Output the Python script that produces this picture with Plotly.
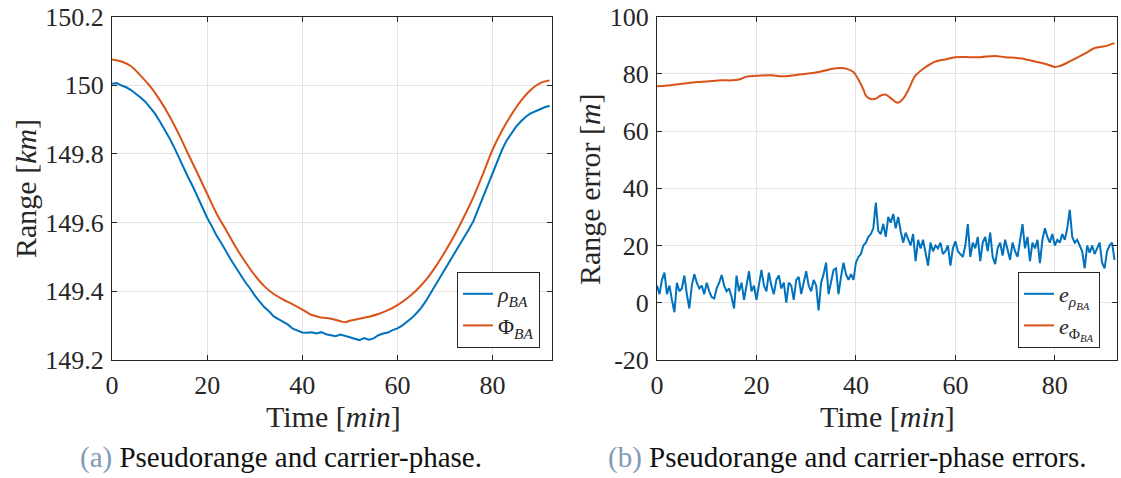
import plotly.graph_objects as go

# ---------------- data: left panel (range, km) ----------------
t_rho = list(range(0, 93))
rho_BA = [150.004, 150.006, 149.999, 149.994, 149.986, 149.976, 149.964, 149.952, 149.935, 149.918,
          149.896, 149.874, 149.848, 149.821, 149.790, 149.763, 149.732, 149.705, 149.674, 149.642,
          149.614, 149.589, 149.562, 149.540, 149.514, 149.492, 149.470, 149.448, 149.427, 149.409,
          149.388, 149.371, 149.354, 149.342, 149.327, 149.319, 149.310, 149.303, 149.291, 149.285,
          149.280, 149.279, 149.281, 149.277, 149.281, 149.275, 149.273, 149.269, 149.274, 149.269,
          149.266, 149.262, 149.258, 149.264, 149.259, 149.263, 149.272, 149.277, 149.280, 149.287,
          149.292, 149.300, 149.310, 149.322, 149.336, 149.352, 149.372, 149.395, 149.418, 149.440,
          149.462, 149.485, 149.508, 149.532, 149.556, 149.580, 149.605, 149.640, 149.675, 149.710,
          149.745, 149.780, 149.812, 149.840, 149.862, 149.880, 149.895, 149.908, 149.918, 149.925,
          149.930, 149.936, 149.940]

t_phi = [0, 2, 4, 6, 8, 10, 12, 14, 16, 18, 20, 22, 24, 26, 28, 30, 32, 34, 36, 38, 40, 42, 44, 46,
         48, 49, 50, 52, 54, 56, 58, 60, 62, 64, 66, 68, 70, 72, 74, 76, 78, 80, 82, 84, 86, 88, 90, 92]
phi_BA = [150.075, 150.069, 150.055, 150.028, 149.997, 149.958, 149.912, 149.859, 149.800, 149.743,
          149.684, 149.626, 149.578, 149.529, 149.486, 149.447, 149.415, 149.392, 149.376, 149.362,
          149.347, 149.331, 149.324, 149.320, 149.313, 149.310, 149.314, 149.320, 149.326, 149.334,
          149.345, 149.360, 149.379, 149.403, 149.433, 149.471, 149.515, 149.563, 149.617, 149.675,
          149.742, 149.812, 149.868, 149.915, 149.955, 149.986, 150.006, 150.014]

# ---------------- data: right panel (range error, m) ----------------
e_rho_BA = [6, 3, 8, 10.5, 3, 6, 1, -3.3, 7, 4,
            5, 9.5, 3, -2, 6, 10, 7, 5, 6, 3,
            7, 4, 2, 1.5, 5, 7, 9.7, 6, 4, 5,
            2, -2, 9.5, 4, 7, 1, 6, 11, 4, 6,
            1, 7, 11.5, 6, 4, 10.5, 6, 3, 8, 9.5,
            5, 7, 0, 7, 6, 1, 8, 9, 3, 7,
            11, 6, 4, 8, 6, -2.7, 7, 10, 14, 3,
            8, 11.5, 12, 3, 9, 14, 10, 8, 10, 8,
            14, 16, 17, 20, 21, 23, 24, 26, 35, 25,
            24, 27.5, 23, 30, 28, 31, 26, 30, 25, 21,
            24.5, 22, 20, 24, 14.5, 22, 19, 22, 17, 13,
            21, 18, 20, 19, 21, 17, 18, 20, 13, 19,
            21.5, 18, 17, 16, 20, 27.5, 16, 21, 19, 23,
            14.5, 21, 23, 18, 24.5, 16, 13.5, 19, 21, 16.5,
            22, 18, 15, 21, 18, 16, 22, 27.5, 19, 23,
            14.5, 21, 19, 22, 13.8, 22, 26, 23, 21, 24,
            20, 22, 21, 24, 22, 26, 32.5, 23, 21, 22,
            20, 18, 12, 20, 17.5, 20, 17, 19, 21, 14,
            12, 18, 20, 21, 15]
t_e_rho = [i * 0.5 for i in range(len(e_rho_BA))]

t_e_phi = [0, 2, 5, 8, 10, 13, 15, 16.5, 18, 20, 23, 25, 28, 30, 33, 36, 38, 39.5, 40.5, 41.5,
           42, 43, 44, 45, 46, 47, 48, 48.5, 49.5, 50.5, 52, 54, 56, 58, 60, 63, 65, 68, 70, 73,
           75, 78, 80, 81, 83, 86, 88, 90, 92]
e_phi_BA = [75.6, 75.9, 76.5, 77.1, 77.3, 77.7, 77.7, 78.0, 79.0, 79.3, 79.5, 79.1, 79.6, 80.0, 80.8,
            81.9, 81.8, 80.6, 78.0, 74.5, 72.4, 71.2, 71.3, 72.4, 72.7, 71.5, 70.1, 69.9, 71.3,
            74.2, 79.4, 82.3, 84.3, 85.0, 85.8, 85.8, 85.8, 86.2, 85.8, 85.4, 84.7, 83.5, 82.4,
            82.7, 84.3, 87.0, 89.0, 89.6, 90.7]

# ---------------- ticks ----------------
x_ticks = [0, 20, 40, 60, 80]
y1_ticks = [149.2, 149.4, 149.6, 149.8, 150.0, 150.2]
y1_ticklabels = ["149.2", "149.4", "149.6", "149.8", "150", "150.2"]
y2_ticks = [-20, 0, 20, 40, 60, 80, 100]
y2_ticklabels = ["-20", "0", "20", "40", "60", "80", "100"]

BLUE = "#0072BD"
ORANGE = "#D95319"
AX = "#262626"
GRID = "#e3e3e3"
FONT = "Liberation Serif"

fig = go.Figure()
fig.add_trace(go.Scatter(x=t_rho, y=rho_BA, mode="lines", line=dict(color=BLUE, width=2),
                         name="<i>ρ</i><sub><i>BA</i></sub>", xaxis="x", yaxis="y", legend="legend"))
fig.add_trace(go.Scatter(x=t_phi, y=phi_BA, mode="lines", line=dict(color=ORANGE, width=2, shape="spline"),
                         name="Φ<sub><i>BA</i></sub>", xaxis="x", yaxis="y", legend="legend"))
fig.add_trace(go.Scatter(x=t_e_rho, y=e_rho_BA, mode="lines", line=dict(color=BLUE, width=2),
                         name="<i>e</i><sub><i>ρ</i><sub><i>BA</i></sub></sub>", xaxis="x2", yaxis="y2", legend="legend2"))
fig.add_trace(go.Scatter(x=t_e_phi, y=e_phi_BA, mode="lines", line=dict(color=ORANGE, width=2, shape="spline"),
                         name="<i>e</i><sub>Φ<sub><i>BA</i></sub></sub>", xaxis="x2", yaxis="y2", legend="legend2"))

axis_common = dict(showline=True, linecolor=AX, linewidth=1, mirror="ticks", ticks="inside",
                   ticklen=5, tickcolor=AX, showgrid=True, gridcolor=GRID, gridwidth=1,
                   zeroline=False, automargin=False,
                   tickfont=dict(family=FONT, size=26, color=AX))

ydom = [1 - 360 / 478, 1 - 16.5 / 478]
legend_common = dict(xanchor="right", yanchor="bottom", bordercolor=AX, borderwidth=1,
                     bgcolor="white", font=dict(family=FONT, size=22, color=AX),
                     tracegroupgap=0, entrywidth=48, entrywidthmode="pixels")
fig.update_layout(
    width=1121, height=478, margin=dict(l=0, r=0, t=0, b=0, autoexpand=False),
    paper_bgcolor="white", plot_bgcolor="white",
    font=dict(family=FONT, color=AX),
    xaxis=dict(domain=[112 / 1121, 552 / 1121], range=[0, 92.5], tickvals=x_ticks,
               ticklabelstandoff=2, anchor="y", **axis_common),
    yaxis=dict(domain=ydom, range=[149.2, 150.2], tickvals=y1_ticks, ticktext=y1_ticklabels,
               ticklabelstandoff=2, anchor="x", **axis_common),
    xaxis2=dict(domain=[657 / 1121, 1117 / 1121], range=[0, 92.5], tickvals=x_ticks,
                ticklabelstandoff=2, anchor="y2", **axis_common),
    yaxis2=dict(domain=ydom, range=[-20, 100], tickvals=y2_ticks, ticktext=y2_ticklabels,
                ticklabelstandoff=2, anchor="x2", **axis_common),
    legend=dict(x=540 / 1121, y=1 - 348 / 478, **legend_common),
    legend2=dict(x=1100 / 1121, y=1 - 348 / 478, **legend_common),
)


def label(text, xp, yp, size=30, angle=0, color=AX):
    return dict(text=text, x=xp / 1121, y=1 - yp / 478, xref="paper", yref="paper",
                xanchor="center", yanchor="middle", textangle=angle, showarrow=False,
                font=dict(family=FONT, size=size, color=color))


ann = [
    label("Range [<i>km</i>]", 25, 189, angle=-90),
    label("Range error [<i>m</i>]", 589, 189, angle=-90),
    label("Time [<i>min</i>]", 333, 416),
    label("Time [<i>min</i>]", 887, 416),
    label("<span style='color:#7f9ab3'>(a)</span> Pseudorange and carrier-phase.", 281, 457,
          size=29, color="#111111"),
    label("<span style='color:#7f9ab3'>(b)</span> Pseudorange and carrier-phase errors.", 847, 457,
          size=29, color="#111111"),
]
fig.update_layout(annotations=ann)

fig.write_html("out.html")
